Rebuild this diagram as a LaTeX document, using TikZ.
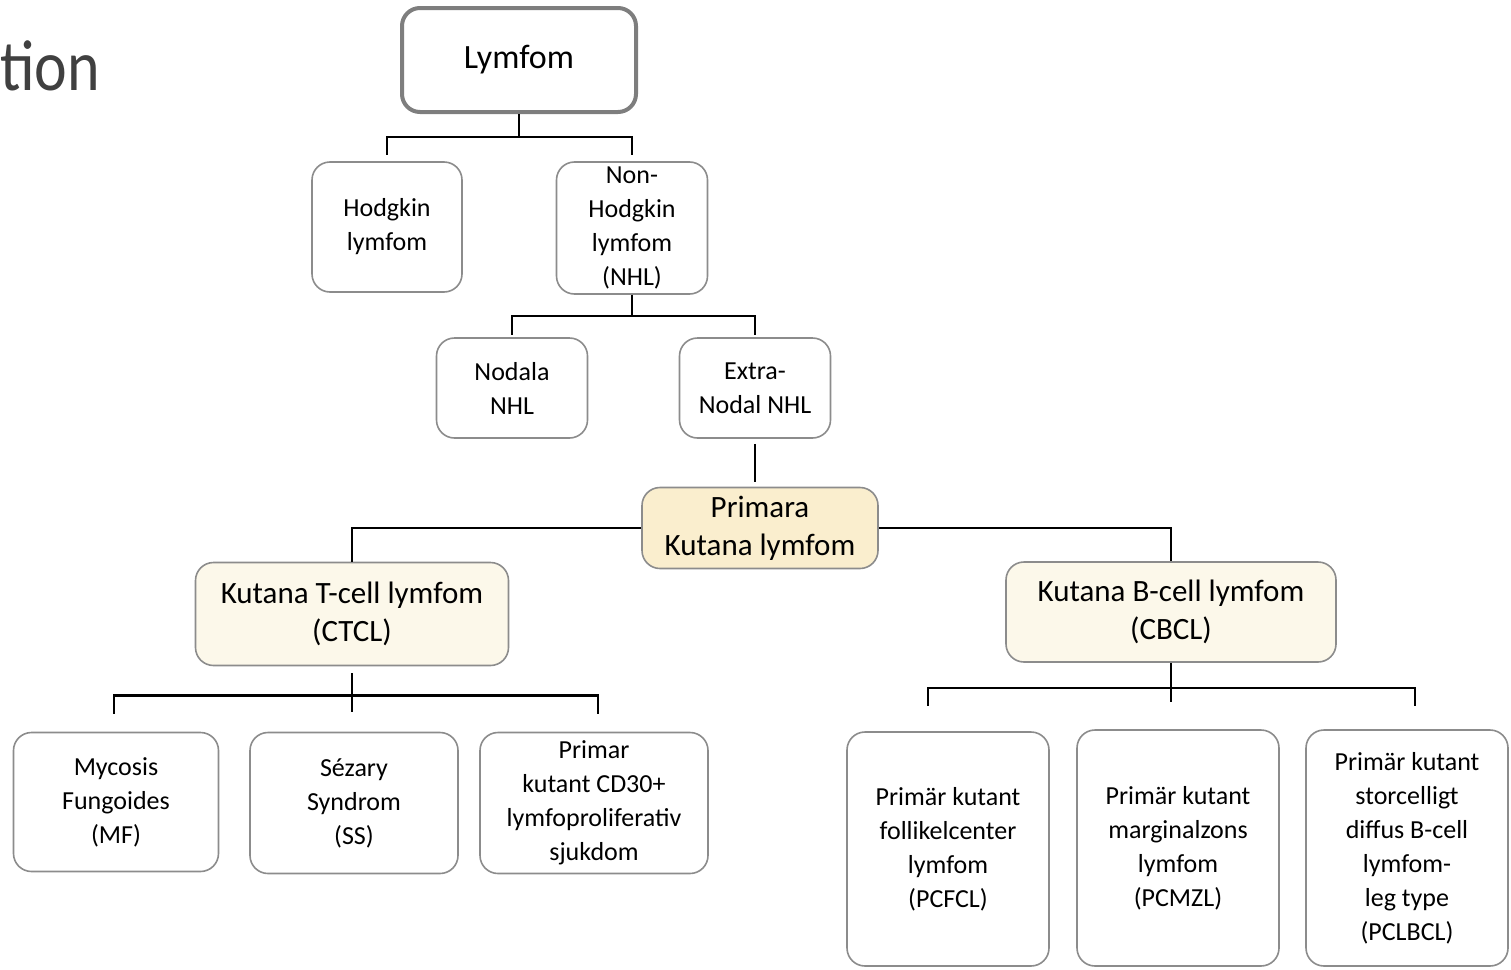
\documentclass[tikz,border=0pt]{standalone}
\usepackage{fontspec}
\setmainfont{Carlito}
\usepackage{tikz}

\definecolor{boxgray}{RGB}{140,140,140}
\definecolor{primfill}{RGB}{250,238,206}
\definecolor{cellfill}{RGB}{252,248,234}
\definecolor{titlegray}{RGB}{64,64,64}

\begin{document}
\begin{tikzpicture}[x=1pt, y=-1pt,
    box/.style={draw=boxgray, line width=1.6, rounded corners=18, fill=white,
        align=center, inner sep=0, font=\fontsize{26}{34}\selectfont},
    bigbox/.style={box, font=\fontsize{31}{38}\selectfont},
    link/.style={draw=black, line width=2.6},
    thinlink/.style={draw=black, line width=1.4}]

        % the frame of the slide
        \useasboundingbox (0,0) rectangle (1511,969);
        \clip (0,0) rectangle (1511,969);

        % the part of the title that is left
        \node[anchor=base west, text=titlegray, inner sep=0, xscale=0.86, transform shape,
            font=\fontsize{72}{76}\selectfont] (title) at (0,90) {tion};

        % the first levels
        \node[box, line width=4, draw=boxgray!90!black, minimum width=234, minimum height=104,
            font=\fontsize{34}{40}\selectfont] (lymfom) at (519,60) {Lymfom};
        \node[box, minimum width=150, minimum height=130] (hodgkin) at (387,227) {Hodgkin\\lymfom};
        \node[box, minimum width=151, minimum height=132] (nhl) at (632,228) {Non-\\Hodgkin\\lymfom\\(NHL)};
        \node[box, minimum width=151, minimum height=100] (nodala) at (512,388) {Nodala\\NHL};
        \node[box, minimum width=151, minimum height=100] (extra) at (755,388) {Extra-\\Nodal NHL};

        % the cutaneous ones
        \node[bigbox, fill=primfill, minimum width=236, minimum height=81] (primara) at (760,528) {Primara\\Kutana lymfom};
        \node[bigbox, fill=cellfill, minimum width=313, minimum height=103] (ctcl) at (352,614) {Kutana T-cell lymfom\\(CTCL)};
        \node[bigbox, fill=cellfill, minimum width=330, minimum height=100] (cbcl) at (1171,612) {Kutana B-cell lymfom\\(CBCL)};

        % the T-cell types
        \node[box, minimum width=205, minimum height=139] (mf) at (116,802) {Mycosis\\Fungoides\\(MF)};
        \node[box, minimum width=208, minimum height=141] (ss) at (354,803) {Sézary\\Syndrom\\(SS)};
        \node[box, minimum width=228, minimum height=141] (cd30) at (594,803) {Primar\\kutant CD30+\\lymfoproliferativ\\sjukdom};

        % the B-cell types (they run off the bottom)
        \node[box, minimum width=202, minimum height=234] (pcfcl) at (948,849) {Primär kutant\\follikelcenter\\lymfom\\(PCFCL)};
        \node[box, minimum width=202, minimum height=236] (pcmzl) at (1178,848) {Primär kutant\\marginalzons\\lymfom\\(PCMZL)};
        \node[box, minimum width=202, minimum height=236] (pclbcl) at (1407,848) {Primär kutant\\storcelligt\\diffus B-cell\\lymfom-\\leg type\\(PCLBCL)};

        % draw the lines
        \draw[link, shorten >=6] (lymfom.south) -- ++(0,23) -| (hodgkin.north);
        \draw[link, shorten >=6] (lymfom.south) -- ++(0,23) -| (nhl.north);
        \draw[link, shorten >=2] (nhl.south) -- ++(0,21) -| (nodala.north);
        \draw[link, shorten >=2] (nhl.south) -- ++(0,21) -| (extra.north);
        \draw[thinlink, shorten <=5, shorten >=5] (extra.south) -- (primara.north -| extra.south);
        \draw[link] (primara.west) -| (ctcl.north);
        \draw[link] (primara.east) -| (cbcl.north);

        \draw[link, shorten <=7, shorten >=20] (ctcl.south) -- (ss.north -| ctcl.south);
        \draw[link, shorten >=18] (ctcl.south) ++(0,29) -| ([xshift=-2]mf.north);
        \draw[link, shorten >=18] (ctcl.south) ++(0,29) -| ([xshift=4]cd30.north);

        \draw[link, shorten >=27] (cbcl.south) -- (pcmzl.north -| cbcl.south);
        \draw[link, shorten >=25] (cbcl.south) ++(0,25) -| ([xshift=-20]pcfcl.north);
        \draw[link, shorten >=23] (cbcl.south) ++(0,25) -| ([xshift=8]pclbcl.north);

    \end{tikzpicture}
\end{document}
